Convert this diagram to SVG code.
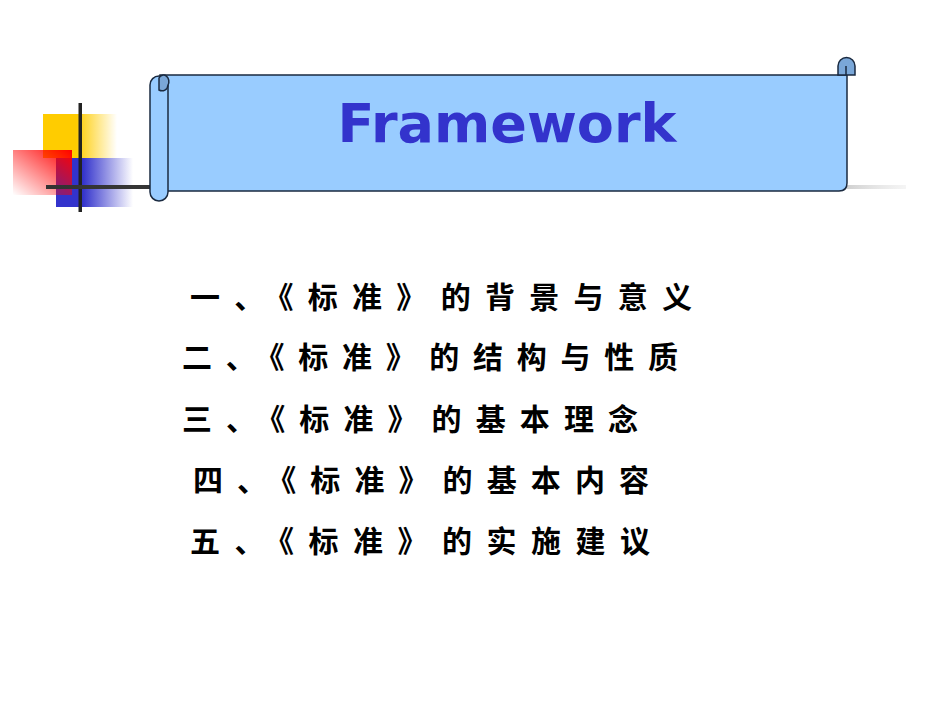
<svg xmlns="http://www.w3.org/2000/svg" width="950" height="713" viewBox="0 0 950 713">
<defs>
<linearGradient id="gy" x1="0" x2="1"><stop offset="0.45" stop-color="#FFCC00"/><stop offset="1" stop-color="#FFCC00" stop-opacity="0"/></linearGradient>
<linearGradient id="gr" x1="1" y1="0" x2="0" y2="1"><stop offset="0" stop-color="#FF0000"/><stop offset="1" stop-color="#FF0000" stop-opacity="0"/></linearGradient>
<linearGradient id="gb" x1="0" x2="1"><stop offset="0.35" stop-color="#3333CC"/><stop offset="1" stop-color="#3333CC" stop-opacity="0"/></linearGradient>
<linearGradient id="gl" x1="0" x2="1"><stop offset="0" stop-color="#333"/><stop offset="0.8" stop-color="#444"/><stop offset="1" stop-color="#ddd" stop-opacity="0.3"/></linearGradient>
<style>
.s{stroke:#1a2a40;stroke-width:1.5}
.cn{font-family:"Noto Sans CJK SC",sans-serif;font-weight:bold;font-size:30px;fill:#000}
</style>
</defs>
<rect width="950" height="713" fill="#fff"/>
<g id="deco">
<rect x="43" y="114" width="74" height="44" fill="url(#gy)"/>
<rect x="56" y="158" width="77" height="49" fill="url(#gb)"/>
<rect x="13" y="150" width="59" height="45" fill="url(#gr)"/>
<rect x="78.5" y="103" width="3.5" height="109" fill="#222"/>
<rect x="46" y="185" width="860" height="4" fill="url(#gl)"/>
</g>
<g id="scroll">
<path class="s" d="M160 75 H847 V183 Q847 191 839 191 H160 Z" fill="#99CCFF"/>
<path class="s" d="M838 75 V66 A8 8 0 0 1 855 66 V75 Z" fill="#7AA7D8"/>
<path class="s" d="M846 75 V66" fill="none"/>
<path class="s" d="M150 85 A9 9 0 0 1 168 85 V192 A9 9 0 0 1 150 192 Z" fill="#99CCFF"/>
<path class="s" d="M159 78 A5 6 0 0 1 168 85 A6 6 0 0 1 159 90 Z" fill="#7AA7D8"/>
</g>
<g id="title"><text x="507" y="142" text-anchor="middle" font-family="'DejaVu Sans',sans-serif" font-weight="bold" font-size="54" fill="#3333CC">Framework</text></g>
<g id="items">
<text class="cn" x="190" y="308" textLength="502" lengthAdjust="spacing">一、《标准》的背景与意义</text>
<text class="cn" x="182" y="368" textLength="496" lengthAdjust="spacing">二、《标准》的结构与性质</text>
<text class="cn" x="182" y="430" textLength="456" lengthAdjust="spacing">三、《标准》的基本理念</text>
<text class="cn" x="193" y="491" textLength="456" lengthAdjust="spacing">四、《标准》的基本内容</text>
<text class="cn" x="190" y="552" textLength="460" lengthAdjust="spacing">五、《标准》的实施建议</text>
</g>
</svg>
